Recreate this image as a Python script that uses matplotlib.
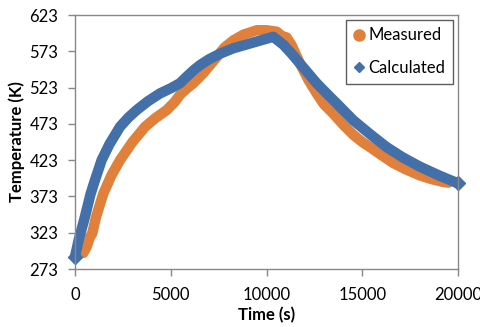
import matplotlib
matplotlib.use("Agg")
import matplotlib.pyplot as plt
from matplotlib.lines import Line2D

plt.rcParams['font.family'] = ['Lato', 'DejaVu Sans']

# Measured (orange)
meas_t = [430, 600, 780, 900, 1100, 1480, 1900, 2350, 3000, 3660, 4200, 4790,
          5200, 5480, 5800, 6180, 6700, 7400, 7800, 8270, 8800, 9490, 10000,
          10530, 10800, 11050, 11300, 11750, 12200, 12620, 13000, 13490,
          14000, 14530, 15000, 15400, 16000, 16620, 17300, 18010, 18600,
          19230, 19500]
meas_T = [295, 303, 317, 322, 345, 377, 402, 423, 448, 469, 481, 492,
          503, 513, 521, 529, 543, 565, 578, 588, 596, 602, 602,
          600, 594, 592, 582, 556, 533, 515, 500, 487,
          472, 458, 448, 441, 430, 419, 410, 402, 397,
          393, 392]

# Calculated (blue)
calc_t = [0, 200, 470, 820, 1000, 1390, 1800, 2350, 2800, 3220, 3800, 4440,
          5000, 5480, 5830, 6200, 6530, 7000, 7600, 8250, 9300, 10350, 10880,
          11300, 11750, 12200, 12620, 13100, 13670, 14530, 15400, 16270,
          17100, 18010, 19000, 20000]
calc_T = [290, 314, 340, 377, 392, 423, 445, 469, 482, 492, 504, 515,
          522, 529, 538, 547, 554, 562, 570, 577, 585, 593, 582,
          570, 556, 542, 529, 516, 501, 478, 459, 441,
          427, 414, 402, 391]

x_ticks = [0, 5000, 10000, 15000, 20000]
y_ticks = [273, 323, 373, 423, 473, 523, 573, 623]

orange = '#E0803A'
blue = '#4470A9'
gray = '#888888'

fig = plt.figure(figsize=(4.8, 3.27), dpi=100)
ax = fig.add_axes([75/480, 1-269/327, (458-75)/480, (269-15)/327])

ax.plot(meas_t, meas_T, '-', color=orange, lw=7.5, solid_capstyle='round',
        solid_joinstyle='round', clip_on=False)
ax.plot(calc_t, calc_T, '-', color=blue, lw=7.5, solid_capstyle='round',
        solid_joinstyle='round', clip_on=False)
ax.plot([calc_t[0], calc_t[-1]], [calc_T[0], calc_T[-1]], 'D', color=blue,
        ms=7, ls='none', clip_on=False)

ax.set_xlim(0, 20000)
ax.set_ylim(273, 623)
ax.set_xticks(x_ticks)
ax.set_yticks(y_ticks)
ax.set_xticklabels([str(v) for v in x_ticks])
ax.set_yticklabels([str(v) for v in y_ticks])

for s in ax.spines.values():
    s.set_color(gray)
    s.set_linewidth(1.0)
ax.tick_params(axis='both', direction='out', length=5, width=1, color=gray,
               labelsize=12)
ax.tick_params(axis='x', pad=8)
ax.tick_params(axis='y', pad=7)

ax.set_xlabel('Time (s)', fontsize=12, fontweight='bold', labelpad=3)
ax.set_ylabel('Temperature (K)', fontsize=12, fontweight='bold', labelpad=3)

handles = [Line2D([], [], ls='none', marker='o', color=orange, ms=8),
           Line2D([], [], ls='none', marker='D', color=blue, ms=5)]
leg = ax.legend(handles, ['Measured', 'Calculated'], loc='upper right',
                fontsize=12, frameon=True, fancybox=False,
                borderaxespad=0.3, handlelength=0.6, handletextpad=0.3,
                labelspacing=1.0, borderpad=0.45)
leg.get_frame().set_edgecolor('#333333')
leg.get_frame().set_linewidth(1.0)

fig.savefig('out.png', dpi=100)
